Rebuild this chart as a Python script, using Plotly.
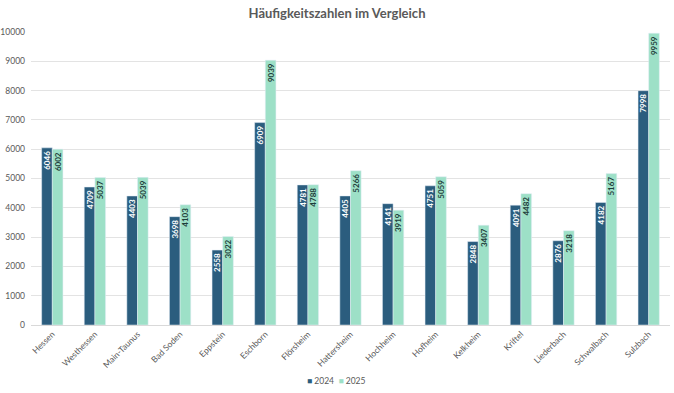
import plotly.graph_objects as go

categories = ["Hessen", "Westhessen", "Main-Taunus", "Bad Soden", "Eppstein", "Eschborn",
              "Flörsheim", "Hattersheim", "Hochheim", "Hofheim", "Kelkheim", "Kriftel",
              "Liederbach", "Schwalbach", "Sulzbach"]
values_2024 = [6046, 4709, 4403, 3698, 2558, 6909, 4781, 4405, 4141, 4751, 2848, 4091, 2876, 4182, 7998]
values_2025 = [6002, 5037, 5039, 4103, 3022, 9039, 4788, 5266, 3919, 5059, 3407, 4482, 3218, 5167, 9959]
y_ticks = [0, 1000, 2000, 3000, 4000, 5000, 6000, 7000, 8000, 9000, 10000]
y_tick_labels = [str(v) for v in y_ticks]
series_names = ["2024", "2025"]

dark = "#2b5d7e"
mint = "#9de0c7"
font_family = "Lato, 'Open Sans', sans-serif"

fig = go.Figure()
for name, vals, col, tcol in [(series_names[0], values_2024, dark, "white"),
                              (series_names[1], values_2025, mint, "#1d3d3a")]:
    fig.add_trace(go.Bar(
        x=categories, y=vals, name=name, marker_color=col, showlegend=False,
        text=[str(v) for v in vals], textposition="inside", insidetextanchor="end",
        textangle=-90, constraintext="none",
        insidetextfont=dict(color=tcol, size=8, family=font_family, weight="bold"),
    ))

legend_text = (f"<span style='color:{dark}'>■</span>&nbsp;{series_names[0]}&nbsp;&nbsp;"
               f"<span style='color:{mint}'>■</span>&nbsp;{series_names[1]}")

fig.update_layout(
    width=674, height=393,
    margin=dict(l=31, r=4, t=32, b=68, autoexpand=False),
    paper_bgcolor="white", plot_bgcolor="white",
    barmode="group", bargap=0.5, bargroupgap=0,
    title=dict(text="<b>Häufigkeitszahlen im Vergleich</b>", x=0.5, xanchor="center",
               y=0.967, yanchor="middle",
               font=dict(size=13, color="#595959", family=font_family)),
    font=dict(family=font_family, color="#595959"),
    showlegend=False,
    annotations=[dict(text=legend_text, xref="paper", yref="paper", x=0.477, y=-0.19,
                      xanchor="center", yanchor="middle", showarrow=False,
                      font=dict(size=8.5, color="#595959", family=font_family))],
)
fig.update_xaxes(tickangle=-45, tickfont=dict(size=8.5, color="#595959"),
                 showline=True, linecolor="#d9d9d9", linewidth=1, ticks="",
                 showgrid=False, automargin=False)
fig.update_yaxes(range=[0, 10000], tickvals=y_ticks, ticktext=y_tick_labels,
                 tickfont=dict(size=8.5, color="#595959"),
                 showgrid=True, gridcolor="#e3e3e3", gridwidth=1, zeroline=False,
                 showline=False, ticks="", ticklabelstandoff=5, automargin=False)

fig.write_html("out.html", config={"displayModeBar": False},
               post_script="document.body.style.margin='0';document.body.style.padding='0';")
